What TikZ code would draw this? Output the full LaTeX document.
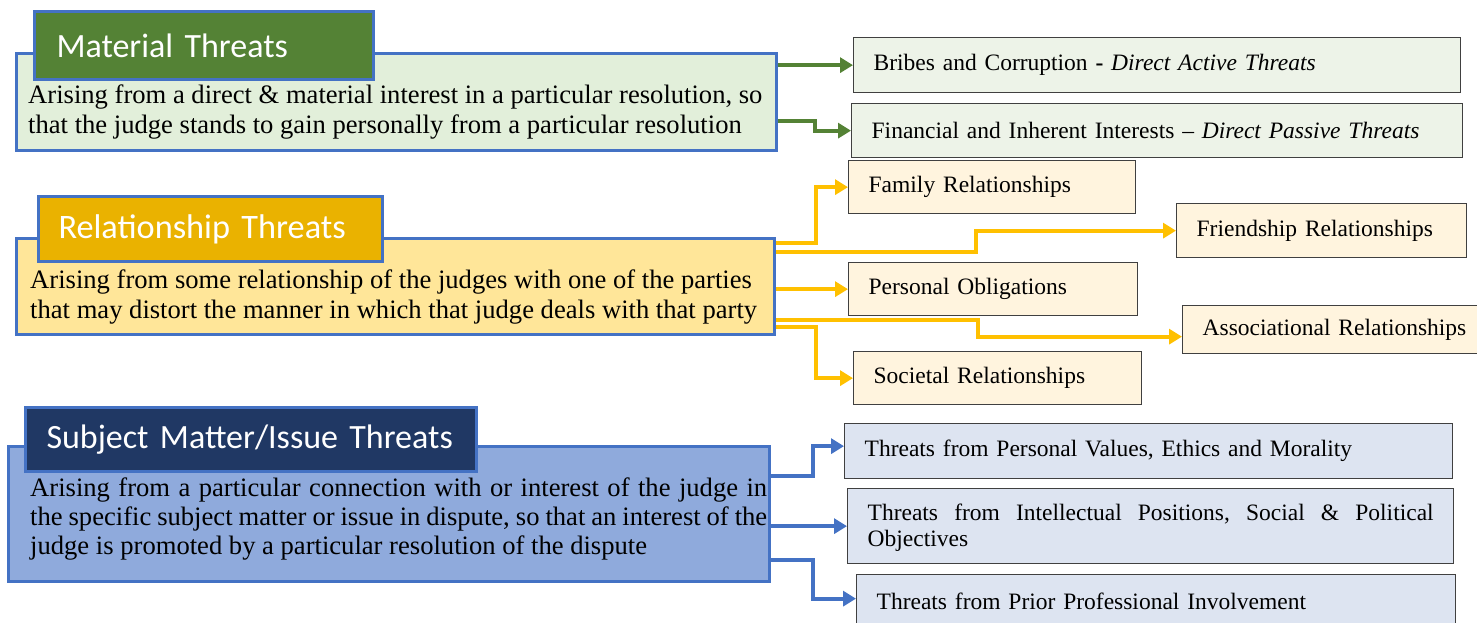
\documentclass[tikz,border=0pt]{standalone}
\usepackage{fontspec}
\setmainfont{Liberation Serif}
\newfontfamily\hdfont{Carlito}
\usetikzlibrary{arrows.meta,calc}
\definecolor{bord}{HTML}{4472C4}
\definecolor{matdark}{HTML}{548235}
\definecolor{matfill}{HTML}{E2EFDA}
\definecolor{matchild}{HTML}{EDF3E8}
\definecolor{reldark}{HTML}{EAB200}
\definecolor{relfill}{HTML}{FFE699}
\definecolor{relchild}{HTML}{FFF4DE}
\definecolor{relarrow}{HTML}{FFC000}
\definecolor{subdark}{HTML}{203864}
\definecolor{subfill}{HTML}{8FAADC}
\definecolor{subchild}{HTML}{DDE4F1}
\definecolor{childborder}{HTML}{404040}
\begin{document}
\begin{tikzpicture}[x=1pt,y=-1pt,
  mainbox/.style={draw=bord, line width=3pt, rectangle, anchor=north west, inner sep=0pt},
  hdbox/.style={draw=bord, line width=3pt, rectangle, anchor=north west, inner ysep=0pt, inner xsep=22pt, align=left, text=white, font=\hdfont\fontsize{34}{36}\selectfont},
  bodytext/.style={anchor=north west, inner sep=0pt, align=left, font=\fontsize{26.6}{30}\selectfont},
  childbox/.style={draw=childborder, line width=1.3pt, rectangle, anchor=north west, inner ysep=0pt, inner xsep=20pt, align=left, font=\fontsize{23.5}{26}\selectfont},
  conn/.style={line width=4pt, -{Triangle[length=13pt,width=15pt]}}
]
\useasboundingbox (0,0) rectangle (1477,623);
\clip (0,0) rectangle (1477,623);

% ---------- Material ----------
\node[mainbox, fill=matfill, minimum width=760pt, minimum height=97pt] (mat) at (15,52) {};
\node[hdbox, fill=matdark, minimum height=68pt, text width=295pt] (math) at (33,10) {Material Threats};
\node[bodytext] (matt) at (28,85) {Arising from a direct \& material interest in a particular resolution, so\\that the judge stands to gain personally from a particular resolution};

\node[childbox, fill=matchild, minimum height=55pt, text width=567pt] (bri) at (853,37) {Bribes and Corruption \textbf{-} \textit{Direct Active Threats}};
\node[childbox, fill=matchild, minimum height=54pt, text width=571pt] (fin) at (851,103) {Financial and Inherent Interests -- \textit{Direct Passive Threats}};

\draw[conn, matdark] (bri.west -| mat.east) -- (bri.west);
\draw[conn, matdark] ($(mat.south east)+(0,-31)$) -- ++(37,0) |- (fin.west);

% ---------- Relationship ----------
\node[mainbox, fill=relfill, minimum width=758pt, minimum height=96pt] (rel) at (15,237) {};
\node[hdbox, fill=reldark, minimum height=65pt, inner xsep=20pt, text width=304pt, font=\hdfont\fontsize{34.3}{36}\selectfont] (relh) at (37,195) {Relationship Threats};
\node[bodytext] (relt) at (30,270) {Arising from some relationship of the judges with one of the parties\\that may distort the manner in which that judge deals with that party};

\node[childbox, fill=relchild, minimum height=53pt, text width=247pt] (fam) at (848,160) {Family Relationships};
\node[childbox, fill=relchild, minimum height=54pt, text width=250pt] (fri) at (1176,203) {Friendship Relationships};
\node[childbox, fill=relchild, minimum height=53pt, text width=249pt] (per) at (848,262) {Personal Obligations};
\node[childbox, fill=relchild, minimum height=48pt, text width=260pt] (asc) at (1182,305) {\mbox{Associational Relationships}};
\node[childbox, fill=relchild, minimum height=53pt, text width=248pt] (soc) at (853,351) {Societal Relationships};

\draw[conn, relarrow] ($(rel.north east)+(0,6)$) -- ++(40,0) |- (fam.west);
\draw[conn, relarrow] ($(rel.north east)+(0,15)$) -- ++(200,0) |- (fri.west);
\draw[conn, relarrow] (per.west -| rel.east) -- (per.west);
\draw[conn, relarrow] ($(rel.north east)+(0,83)$) -- ++(202,0) |- ($(asc.west)+(0,7)$);
\draw[conn, relarrow] ($(rel.north east)+(0,90)$) -- ++(40,0) |- (soc.west);

% ---------- Subject matter ----------
\node[mainbox, fill=subfill, minimum width=761pt, minimum height=135pt] (sub) at (7,445) {};
\node[hdbox, fill=subdark, minimum height=64pt, inner xsep=21pt, text width=409pt] (subh) at (24,406) {Subject Matter/Issue Threats};
\node[bodytext, font=\fontsize{26.6}{29}\selectfont] (subt) at (30,478) {\makebox[737pt][s]{Arising from a particular connection with or interest of the judge in}\\\makebox[737pt][s]{the specific subject matter or issue in dispute, so that an interest of the}\\judge is promoted by a particular resolution of the dispute};

\node[childbox, fill=subchild, minimum height=55pt, text width=568pt] (pv) at (844,423) {Threats from Personal Values, Ethics and Morality};
\node[childbox, fill=subchild, minimum height=75pt, text width=566pt] (ip) at (847,488) {\rule{0pt}{20pt}\hbox to 566pt{Threats\hfill from\hfill Intellectual\hfill Positions,\hfill Social\hfill \&\hfill Political}\\Objectives};
\node[childbox, fill=subchild, minimum height=54pt, text width=559pt] (pp) at (856,574) {Threats from Prior Professional Involvement};

\draw[conn, bord] ($(sub.north east)+(0,31)$) -- ++(42,0) |- ($(pv.west)+(0,-5)$);
\draw[conn, bord] (ip.west -| sub.east) -- (ip.west);
\draw[conn, bord] ($(sub.north east)+(0,115)$) -- ++(42,0) |- ($(pp.west)+(0,-3)$);
\end{tikzpicture}
\end{document}
